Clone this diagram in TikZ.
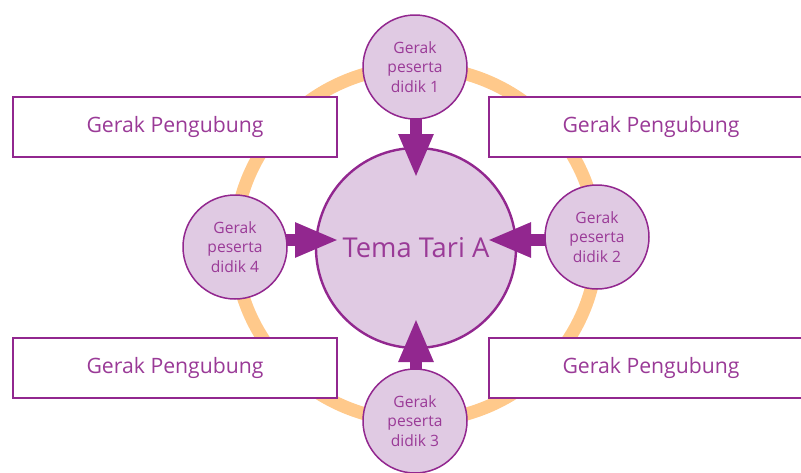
\documentclass[tikz,border=0pt]{standalone}
\usepackage{fontspec}
\setmainfont{Open Sans}
\usetikzlibrary{arrows.meta}
\definecolor{pur}{HTML}{92278F}
\definecolor{txt}{HTML}{9A3A97}
\definecolor{lav}{HTML}{E0CAE3}
\definecolor{ora}{HTML}{FFC98B}
\tikzset{
  rectbox/.style={draw=pur, line width=2.2pt, fill=white, minimum width=324pt, minimum height=60pt, inner sep=0pt, text=txt, font=\fontsize{21.2}{25}\selectfont},
  bigcirc/.style={circle, draw=pur, line width=2.4pt, fill=lav, minimum size=200pt, inner sep=0pt, text=txt, font=\fontsize{27.3}{31}\selectfont},
  smallcirc/.style={circle, draw=pur, line width=1.5pt, fill=lav, minimum size=104pt, inner sep=0pt, text=txt, align=center, font=\fontsize{15.6}{19.5}\selectfont},
  blockarrow/.style={pur, line width=12pt, -{Triangle[width=32pt,length=44pt]}}
}
\begin{document}
\begin{tikzpicture}[x=1pt,y=-1pt]
\useasboundingbox (0,0) rectangle (801,472);
\clip (0,0) rectangle (801,472);
% ring
\draw[ora, line width=13pt] (416,244) ellipse [x radius=181pt, y radius=177pt];
% rectangles
\node[rectbox] (r1) at (175,127) {Gerak Pengubung};
\node[rectbox] (r2) at (651,127) {Gerak Pengubung};
\node[rectbox] (r3) at (175,368) {Gerak Pengubung};
\node[rectbox] (r4) at (651,368) {Gerak Pengubung};
% center
\node[bigcirc] (c) at (416,248) {Tema Tari A};
% arrow tips
\coordinate (t1) at (416,178);
\coordinate (t2) at (487,240);
\coordinate (t3) at (416,318);
\coordinate (t4) at (339,240);
\coordinate (s1) at (416,67);
\coordinate (s2) at (597,240);
\coordinate (s3) at (416,421);
\coordinate (s4) at (235,240);
\draw[blockarrow] (s1) -- (t1);
\draw[blockarrow] (s2) -- (t2);
\draw[blockarrow] (s3) -- (t3);
\draw[blockarrow] (s4) -- (t4);
% small circles
\node[smallcirc] (p1) at (415,67) {Gerak\\peserta\\didik 1};
\node[smallcirc] (p2) at (597,237) {Gerak\\peserta\\didik 2};
\node[smallcirc] (p3) at (415,421) {Gerak\\peserta\\didik 3};
\node[smallcirc] (p4) at (235,247) {Gerak\\peserta\\didik 4};
\end{tikzpicture}
\end{document}
